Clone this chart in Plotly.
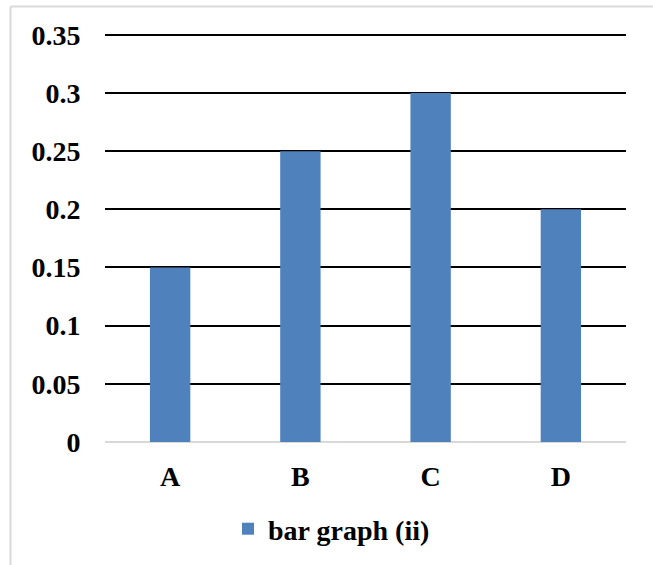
import plotly.graph_objects as go

categories = ["A", "B", "C", "D"]
values = [0.15, 0.25, 0.30, 0.20]
series_name = "bar graph (ii)"
y_tick_vals = [0, 0.05, 0.1, 0.15, 0.2, 0.25, 0.3, 0.35]
y_tick_text = ["0", "0.05", "0.1", "0.15", "0.2", "0.25", "0.3", "0.35"]

W, H = 653, 565
L, R, T, B = 105, 27, 29, 123
pw, ph = W - L - R, H - T - B

FONT = "Liberation Serif"
FS = 28

fig = go.Figure()
fig.add_trace(go.Bar(
    x=categories, y=values, name=series_name,
    marker=dict(color="#4f81bd", line=dict(width=0)),
    width=0.31,
))

fx = (10.5 - L) / pw
fy = 1 + (T - 6.5) / ph
fig.add_shape(type="line", xref="paper", yref="paper", x0=fx, x1=fx, y0=-1, y1=fy,
              line=dict(color="#d9d9d9", width=2))
fig.add_shape(type="line", xref="paper", yref="paper", x0=fx, x1=2, y0=fy, y1=fy,
              line=dict(color="#d9d9d9", width=2))

fig.update_layout(
    width=W, height=H,
    margin=dict(l=L, r=R, t=T, b=B, pad=0, autoexpand=False),
    paper_bgcolor="white", plot_bgcolor="white",
    font=dict(family=FONT, size=FS, color="black"),
    showlegend=True,
    legend=dict(orientation="h", x=(228 - L) / pw, xanchor="left",
                y=-(529 - (T + ph)) / ph, yanchor="middle",
                font=dict(family=FONT, size=FS, color="black", weight="bold"),
                itemwidth=30),
    xaxis=dict(showgrid=False, showline=False, ticks="outside", ticklen=9,
               tickcolor="rgba(0,0,0,0)", automargin=False,
               tickfont=dict(family=FONT, size=FS, color="black", weight="bold")),
    yaxis=dict(range=[0, 0.355], tickvals=y_tick_vals, ticktext=y_tick_text,
               showgrid=True, gridcolor="black", gridwidth=2,
               zeroline=True, zerolinecolor="#d9d9d9", zerolinewidth=2,
               ticks="outside", ticklen=18, tickcolor="rgba(0,0,0,0)", automargin=False,
               tickfont=dict(family=FONT, size=FS, color="black", weight="bold")),
)

fig.write_html("out.html", config={"displayModeBar": False},
               post_script="document.body.style.margin='0';")
